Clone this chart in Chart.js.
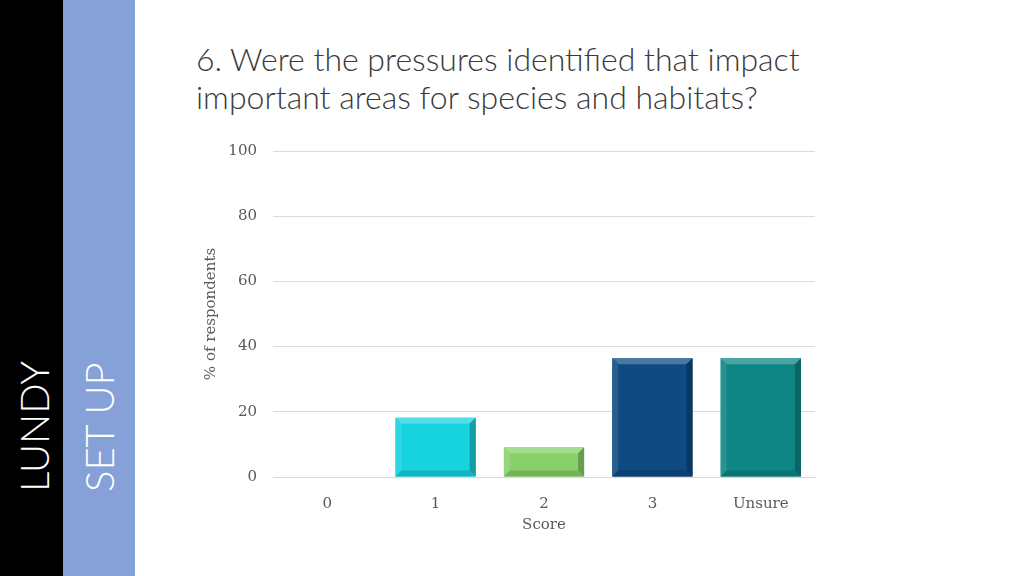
<!DOCTYPE html>
<html>
<head>
<meta charset="utf-8">
<script src="https://cdn.jsdelivr.net/npm/chart.js@4"></script>
<style>
  html, body { margin: 0; padding: 0; background: #fff; }
  #page { position: relative; width: 1024px; height: 576px; overflow: hidden; }
  .strip { position: absolute; top: 0; height: 576px; }
  .side { position: absolute; color: #fff; font-family: Lato, "Open Sans", sans-serif; font-weight: 300;
          font-size: 40px; white-space: nowrap; transform-origin: left top; transform: rotate(-90deg); }
  #title { position: absolute; left: 196px; top: 40px; font-family: Lato, "Open Sans", sans-serif;
           font-size: 32px; line-height: 38px; color: #3a3a3a; font-weight: 300; }
  #chart { position: absolute; left: 0; top: 0; }
</style>
</head>
<body>
<div id="page">
  <div class="strip" style="left:0;width:63px;background:#000"></div>
  <div class="strip" style="left:63px;width:72px;background:#86a1d8"></div>
  <div class="side" style="left:10px;top:492px">LUNDY</div>
  <div class="side" style="left:75px;top:492px">SET UP</div>
  <div id="title">6. Were the pressures identified that impact<br>important areas for species and habitats?</div>
  <canvas id="chart" width="1024" height="576"></canvas>
</div>
<script>
// 資料
const categories = ['0', '1', '2', '3', 'Unsure'];
const percentValues = [0, 18.2, 9.1, 36.4, 36.4];
const yTicks = [0, 20, 40, 60, 80, 100];
const barColors = ['#17d3df', '#17d3df', '#88d16a', '#0f4b82', '#0e8686'];

// 斜面效果 (bevel)
function shade(hex, amt) {
    const n = parseInt(hex.slice(1), 16);
    let r = (n >> 16) & 255, g = (n >> 8) & 255, b = n & 255;
    const f = c => Math.max(0, Math.min(255, Math.round(amt > 0 ? c + (255 - c) * amt : c * (1 + amt))));
    return `rgb(${f(r)},${f(g)},${f(b)})`;
}

const bevelPlugin = {
    id: 'bevel',
    afterDatasetsDraw(chart) {
        const ctx = chart.ctx;
        const meta = chart.getDatasetMeta(0);
        meta.data.forEach((bar, i) => {
            if (!percentValues[i]) return;
            const p = bar.getProps(['x', 'y', 'width', 'base'], true);
            const l = p.x - p.width / 2, r = p.x + p.width / 2, t = p.y, b = p.base;
            const d = Math.min(6, (b - t) / 3);
            const c = barColors[i];
            const poly = (pts, col) => {
                ctx.beginPath();
                ctx.moveTo(pts[0][0], pts[0][1]);
                pts.slice(1).forEach(q => ctx.lineTo(q[0], q[1]));
                ctx.closePath();
                ctx.fillStyle = col;
                ctx.fill();
            };
            ctx.save();
            poly([[l, t], [r, t], [r - d, t + d], [l + d, t + d]], shade(c, 0.25));
            poly([[l, t], [l + d, t + d], [l + d, b - d], [l, b]], shade(c, 0.1));
            poly([[r, t], [r, b], [r - d, b - d], [r - d, t + d]], shade(c, -0.25));
            poly([[l, b], [l + d, b - d], [r - d, b - d], [r, b]], shade(c, -0.15));
            ctx.restore();
        });
    }
};

const serif = "Georgia, 'DejaVu Serif', serif";

new Chart(document.getElementById('chart'), {
    type: 'bar',
    data: {
        labels: categories,
        datasets: [{
            data: percentValues,
            backgroundColor: barColors,
            borderWidth: 0,
            categoryPercentage: 0.74,
            barPercentage: 1
        }]
    },
    options: {
        responsive: false,
        animation: false,
        layout: { padding: { left: 202, top: 151, right: 209, bottom: 40 } },
        plugins: { legend: { display: false }, tooltip: { enabled: false } },
        scales: {
            y: {
                min: 0, max: 100,
                afterBuildTicks: s => { s.ticks = yTicks.map(v => ({ value: v })); },
                afterFit: s => { s.width = 71; },
                grid: { color: '#dcdcdc', drawTicks: false },
                border: { display: false },
                ticks: { color: '#595959', padding: 16, font: { family: serif, size: 15 } },
                title: { display: true, text: '% of respondents', color: '#595959',
                         font: { family: serif, size: 15 }, padding: 0 }
            },
            x: {
                afterFit: s => { s.height = 59; },
                grid: { display: false },
                border: { color: '#d9d9d9' },
                ticks: { color: '#595959', padding: 10, font: { family: serif, size: 15 } },
                title: { display: true, text: 'Score', color: '#595959',
                         font: { family: serif, size: 15 }, padding: 2 }
            }
        }
    },
    plugins: [bevelPlugin]
});
</script>
</body>
</html>
